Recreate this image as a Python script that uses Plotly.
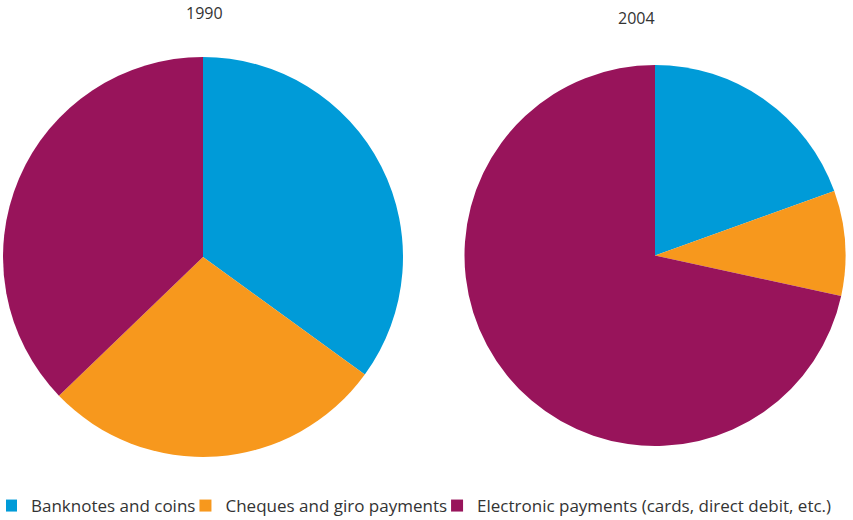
import plotly.graph_objects as go

categories = ["Banknotes and coins", "Cheques and giro payments",
              "Electronic payments (cards, direct debit, etc.)"]
years = ["1990", "2004"]
values_1990 = [35.0, 27.8, 37.2]
values_2004 = [19.5, 8.9, 71.6]
colors = ["#009BD8", "#F7981D", "#98145B"]

W, H = 853, 520
fig = go.Figure()

common = dict(labels=categories, sort=False, direction="clockwise", rotation=0,
              textinfo="none", hoverinfo="label+percent",
              marker=dict(colors=colors, line=dict(width=0)))

fig.add_trace(go.Pie(values=values_1990, name=years[0],
                     domain=dict(x=[3 / W, 403 / W], y=[63 / H, 463 / H]), **common))
fig.add_trace(go.Pie(values=values_2004, name=years[1],
                     domain=dict(x=[464.5 / W, 845.5 / W], y=[74 / H, 455 / H]), **common))

fig.add_annotation(text=years[0], x=204 / W, y=1 - 13 / H, xref="paper", yref="paper",
                   xanchor="center", yanchor="middle", showarrow=False,
                   font=dict(size=16, color="#333333"))
fig.add_annotation(text=years[1], x=636 / W, y=1 - 18 / H, xref="paper", yref="paper",
                   xanchor="center", yanchor="middle", showarrow=False,
                   font=dict(size=16, color="#333333"))

fig.update_layout(
    width=W, height=H,
    margin=dict(l=0, r=0, t=0, b=0, autoexpand=False),
    paper_bgcolor="white", plot_bgcolor="white",
    font=dict(family="Open Sans", size=16, color="#333333"),
    showlegend=True,
    legend=dict(orientation="h", x=6 / W, xanchor="left", y=-4 / H, yanchor="bottom",
                indentation=-15, itemwidth=30, traceorder="normal",
                font=dict(size=17, color="#333333")),
)

fig.write_html("out.html", config={"displayModeBar": False},
               post_script="document.body.style.margin='0px';")
